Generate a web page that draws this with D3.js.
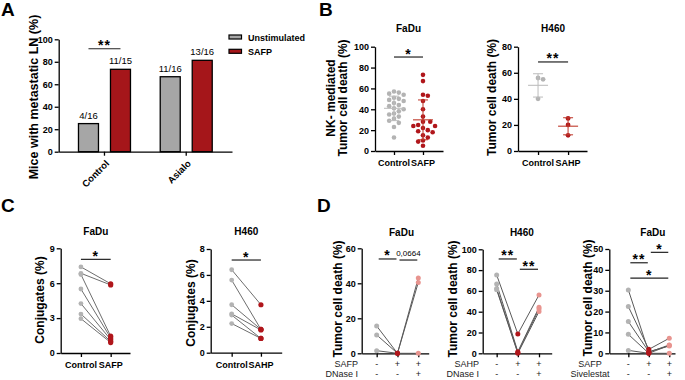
<!DOCTYPE html>
<html>
<head>
<meta charset="utf-8">
<script src="https://cdn.jsdelivr.net/npm/d3@7"></script>
<style>
  body { margin: 0; background: #fff; }
  svg { font-family: "Liberation Sans", Arial, sans-serif; }
  .axis path, .axis line { stroke: #000; stroke-width: 1.3px; }
  .axis text { font-weight: bold; font-size: 9px; fill: #000; }
  .ttl { font-weight: bold; font-size: 10px; }
  .ylab { font-weight: bold; font-size: 12px; }
  .plabel { font-weight: bold; font-size: 19px; }
</style>
</head>
<body>
<svg id="chart" width="685" height="380"></svg>
<script>
// ---- data ----
// A: metastatic LN
const aGroups = ["Control", "Asialo"];
const aSeries = ["Unstimulated", "SAFP"];
const aPercent = [[25.0, 73.3], [66.7, 81.3]];
const aCounts = [["4/16", "11/15"], ["11/16", "13/16"]];
const aTicks = [0, 20, 40, 60, 80, 100];

// B: NK-mediated killing
const bFaduControl = [57, 56, 55, 54, 51, 50, 49, 48, 46, 44, 43, 41, 40, 38, 36, 35, 33, 31, 29, 27, 23, 13];
const bFaduSafp = [73, 67, 54, 53, 48, 40, 33, 28, 28, 25, 24, 24, 22, 20, 19, 18, 15, 13, 10, 9, 5];
const bH460Control = [56, 55, 40];
const bH460Sahp = [25, 20, 12];

// C: conjugates, paired
const cFaduControl = [7.4, 6.85, 6.75, 5.5, 4.25, 3.35, 2.95];
const cFaduSafp = [5.95, 5.85, 1.45, 1.3, 1.15, 1.0, 0.9];
const cH460Control = [6.4, 5.6, 3.7, 3.0, 2.9, 2.25];
const cH460Sahp = [3.7, 1.8, 1.8, 1.75, 1.1, 1.1];

// D: tumor cell death, three conditions per line
const dFaduDnase = [[15.6, 0, 43.0], [10.5, 0, 40.5], [1.5, 0, 0]];
const dH460Dnase = [[75.3, 18.6, 56.1], [66.7, 1.6, 44.2], [62.2, 0.5, 42.6], [61.0, 0, 40.1]];
const dFaduSiv = [[30.4, 0.5, 4.0], [22.4, 1.9, 7.2], [15.2, 0.8, 3.5], [9.1, 0, 3.8], [1.4, 0, 0]];
const dRowsDnaseFadu = ["SAFP", "DNase I"];
const dRowsDnaseH460 = ["SAHP", "DNase I"];
const dRowsSiv = ["SAFP", "Sivelestat"];
const dSigns = [["-", "+", "+"], ["-", "-", "+"]];

const grey = "#b3b3b3", red = "#b0161b", pink = "#e8948f";

const svg = d3.select("#chart");

// ---- helpers ----
function frame(x, y, yTicks, xTicks) {
  const g = svg.append("g");
  g.append("g").attr("class", "axis")
    .attr("transform", `translate(${x.range()[0]},0)`)
    .call(d3.axisLeft(y).tickValues(yTicks).tickSize(4).tickSizeOuter(0).tickPadding(2));
  g.append("g").attr("class", "axis")
    .attr("transform", `translate(0,${y.range()[0]})`)
    .call(d3.axisBottom(x).tickValues(xTicks).tickSize(4).tickSizeOuter(0).tickFormat(""));
  return g;
}

function sig(g, x1, x2, y, label, small) {
  g.append("line").attr("x1", x1).attr("x2", x2).attr("y1", y).attr("y2", y)
    .attr("stroke", "#222").attr("stroke-width", 1.2);
  g.append("text").attr("x", (x1 + x2) / 2).attr("y", small ? y - 4 : y + 1.5)
    .attr("text-anchor", "middle")
    .style("font-size", small ? "8px" : "14px")
    .style("font-weight", small ? "normal" : "bold")
    .style("letter-spacing", small ? "0px" : "1px")
    .text(label);
}

function yLabel(x, y, lines) {
  const t = svg.append("text").attr("class", "ylab").attr("text-anchor", "middle")
    .attr("transform", `translate(${x},${y}) rotate(-90)`);
  lines.forEach((l, i) => {
    t.append("tspan").attr("x", 0).attr("dy", i === 0 ? -(lines.length - 1) * 12 : 12).text(l);
  });
}

function title(x, y, s) {
  svg.append("text").attr("class", "ttl").attr("x", x).attr("y", y).attr("text-anchor", "middle").text(s);
}

function swarm(values, y, cx, r) {
  const placed = [];
  values.map(v => ({ v, py: y(v) })).sort((a, b) => a.py - b.py).forEach(p => {
    const offs = [0];
    for (let k = 1; k < 12; k++) { offs.push(k * r * 1.05, -k * r * 1.05); }
    for (const o of offs) {
      const px = cx + o;
      if (placed.every(q => Math.hypot(q.px - px, q.py - p.py) >= 2 * r + 0.3)) { p.px = px; break; }
    }
    placed.push(p);
  });
  return placed;
}

// ---- panel A ----
(function () {
  const y = d3.scaleLinear().domain([0, 100]).range([151.7, 39.3]);
  const x = d3.scaleBand().domain(aGroups).range([58.7, 232]).paddingInner(0).paddingOuter(0.06);
  const sub = d3.scaleBand().domain(aSeries).range([-42, 42]).paddingInner(0.375).paddingOuter(0.5);
  const col = d3.scaleOrdinal().domain(aSeries).range(["#a6a6a6", "#a5161a"]);
  const g = svg.append("g");

  aGroups.forEach((grp, gi) => {
    aSeries.forEach((s, si) => {
      const bx = x(grp) + x.bandwidth() / 2 + sub(s);
      g.append("rect").attr("x", bx).attr("y", y(aPercent[gi][si]))
        .attr("width", sub.bandwidth()).attr("height", y(0) - y(aPercent[gi][si]))
        .attr("fill", col(s)).attr("stroke", "#000").attr("stroke-width", 1.3);
      g.append("text").attr("x", bx + sub.bandwidth() / 2).attr("y", y(aPercent[gi][si]) - 5)
        .attr("text-anchor", "middle").style("font-size", "9.5px").text(aCounts[gi][si]);
    });
  });

  g.append("g").attr("class", "axis")
    .attr("transform", `translate(${x.range()[0]},0)`)
    .call(d3.axisLeft(y).tickValues(aTicks).tickSize(4).tickSizeOuter(0).tickPadding(2));
  const xa = g.append("g").attr("class", "axis")
    .attr("transform", `translate(0,${y(0)})`)
    .call(d3.axisBottom(x).tickSize(4).tickSizeOuter(0));
  xa.selectAll("text").attr("y", 0).attr("dy", "0.35em")
    .attr("text-anchor", "end").attr("transform", "translate(3,10) rotate(-45)")
    .style("font-size", "9.5px");

  const c0 = x("Control") + x.bandwidth() / 2;
  sig(g, c0 + sub("Unstimulated") + sub.bandwidth() / 2, c0 + sub("SAFP") + sub.bandwidth() / 2, y(91.6), "**");

  // legend
  aSeries.forEach((s, i) => {
    const ly = 35 + i * 14.3;
    svg.append("rect").attr("x", 229).attr("y", ly).attr("width", 12.5).attr("height", 4)
      .attr("fill", col(s)).attr("stroke", "#000").attr("stroke-width", 1.2);
    svg.append("text").attr("x", 248).attr("y", ly + 5.5).style("font-weight", "bold")
      .style("font-size", "9px").text(s);
  });

  svg.append("text").attr("class", "ylab").attr("text-anchor", "middle")
    .attr("transform", "translate(38,97) rotate(-90)").style("font-size", "12.5px")
    .text("Mice with metastatic LN (%)");
  svg.append("text").attr("class", "plabel").attr("x", 1).attr("y", 16).text("A");
})();

// ---- panel B ----
function scatterPanel(cfg) {
  const x = d3.scaleLinear().domain(cfg.xDom).range(cfg.xRange);
  const y = d3.scaleLinear().domain([0, cfg.yMax]).range(cfg.yRange);
  const g = frame(x, y, cfg.yTicks, [0, 1]);
  [cfg.a, cfg.b].forEach((vals, i) => {
    const cx = x(i);
    const m = d3.mean(vals), sd = d3.deviation(vals);
    const ec = i === 0 ? "#bdbdbd" : "#c0392b";
    const pts = swarm(vals, y, cx, cfg.r);
    g.selectAll(null).data(pts).join("circle")
      .attr("cx", d => d.px).attr("cy", d => d.py).attr("r", cfg.r)
      .attr("fill", i === 0 ? grey : red);
    g.append("line").attr("x1", cx).attr("x2", cx).attr("y1", y(m - sd)).attr("y2", y(m + sd))
      .attr("stroke", ec).attr("stroke-width", 1.2).attr("stroke-opacity", 0.85);
    g.append("line").attr("x1", cx - cfg.mw).attr("x2", cx + cfg.mw).attr("y1", y(m)).attr("y2", y(m))
      .attr("stroke", ec).attr("stroke-width", 1.3).attr("stroke-opacity", 0.85);
    [m - sd, m + sd].forEach(v => {
      g.append("line").attr("x1", cx - 5).attr("x2", cx + 5).attr("y1", y(v)).attr("y2", y(v))
        .attr("stroke", ec).attr("stroke-width", 1.2).attr("stroke-opacity", 0.85);
    });
    g.append("text").attr("x", cx).attr("y", cfg.labY).attr("text-anchor", "middle")
      .style("font-weight", "bold").style("font-size", "9px").text(cfg.cats[i]);
  });
  sig(g, x(0), x(1), y(cfg.sigY), cfg.sig);
  title((x(0) + x(1)) / 2, cfg.titleY, cfg.title);
  return { x, y };
}

scatterPanel({
  xDom: [-0.655, 1.69], xRange: [375, 443], yMax: 100, yRange: [151, 46.7],
  yTicks: [0, 20, 40, 60, 80, 100], a: bFaduControl, b: bFaduSafp, r: 2.3, mw: 10,
  cats: ["Control", "SAFP"], labY: 165.5, sig: "*", sigY: 90.1, title: "FaDu", titleY: 31.5
});
scatterPanel({
  xDom: [-0.667, 1.63], xRange: [518, 587], yMax: 80, yRange: [151, 46.7],
  yTicks: [0, 20, 40, 60, 80], a: bH460Control, b: bH460Sahp, r: 2.4, mw: 10,
  cats: ["Control", "SAHP"], labY: 165.5, sig: "**", sigY: 68.3, title: "H460", titleY: 31.5
});
yLabel(347, 98, ["NK- mediated", "Tumor cell death (%)"]);
yLabel(496, 97.5, ["Tumor cell death (%)"]);
svg.append("text").attr("class", "plabel").attr("x", 319).attr("y", 15.5).text("B");

// ---- panel C ----
function pairedPanel(cfg) {
  const x = d3.scaleLinear().domain(cfg.xDom).range(cfg.xRange);
  const y = d3.scaleLinear().domain([0, cfg.yMax]).range(cfg.yRange);
  const g = frame(x, y, cfg.yTicks, [0, 1]);
  const pairs = cfg.a.map((v, i) => [v, cfg.b[i]]);
  g.selectAll(null).data(pairs).join("line")
    .attr("x1", x(0)).attr("x2", x(1)).attr("y1", d => y(d[0])).attr("y2", d => y(d[1]))
    .attr("stroke", "#6e6e6e").attr("stroke-width", 1);
  g.selectAll(null).data(cfg.a).join("circle").attr("cx", x(0)).attr("cy", d => y(d)).attr("r", 2.4).attr("fill", grey);
  g.selectAll(null).data(cfg.b).join("circle").attr("cx", x(1)).attr("cy", d => y(d)).attr("r", 2.6).attr("fill", red);
  cfg.cats.forEach((c, i) => {
    g.append("text").attr("x", x(i)).attr("y", cfg.labY).attr("text-anchor", "middle")
      .style("font-weight", "bold").style("font-size", "9px").text(c);
  });
  sig(g, x(0), x(1), y(cfg.sigY), cfg.sig);
  title((x(0) + x(1)) / 2, cfg.titleY, cfg.title);
}

pairedPanel({
  xDom: [-0.68, 1.65], xRange: [60.7, 130], yMax: 9, yRange: [353, 248.3], yTicks: [0, 3, 6, 9],
  a: cFaduControl, b: cFaduSafp, cats: ["Control", "SAFP"], labY: 367.5,
  sig: "*", sigY: 8.05, title: "FaDu", titleY: 235
});
pairedPanel({
  xDom: [-0.717, 1.71], xRange: [210.7, 281.7], yMax: 8, yRange: [352.7, 249], yTicks: [0, 2, 4, 6, 8],
  a: cH460Control, b: cH460Sahp, cats: ["Control", "SAHP"], labY: 367.5,
  sig: "*", sigY: 7.15, title: "H460", titleY: 235
});
yLabel(44, 300, ["Conjugates (%)"]);
yLabel(195, 303, ["Conjugates (%)"]);
svg.append("text").attr("class", "plabel").attr("x", 1).attr("y", 212).text("C");

// ---- panel D ----
function tripletPanel(cfg) {
  const x = d3.scaleLinear().domain(cfg.xDom).range(cfg.xRange);
  const y = d3.scaleLinear().domain([0, cfg.yMax]).range(cfg.yRange);
  const g = frame(x, y, cfg.yTicks, [0, 1, 2]);
  const line = d3.line().x((d, i) => x(i)).y(d => y(d));
  g.selectAll(null).data(cfg.data).join("path").attr("d", line)
    .attr("fill", "none").attr("stroke", "#5a5a5a").attr("stroke-width", 1);
  const cols = [grey, red, pink];
  [0, 1, 2].forEach(i => {
    g.selectAll(null).data(cfg.data).join("circle")
      .attr("cx", x(i)).attr("cy", d => y(d[i])).attr("r", 2.5).attr("fill", cols[i]);
  });
  cfg.rows.forEach((r, ri) => {
    const ry = 367 + ri * 10;
    g.append("text").attr("x", cfg.rowX).attr("y", ry).attr("text-anchor", cfg.rowAnchor)
      .style("font-size", "9px").attr("fill", "#222").text(r);
    dSigns[ri].forEach((s, si) => {
      g.append("text").attr("x", x(si)).attr("y", ry).attr("text-anchor", "middle")
        .style("font-size", "9px").attr("fill", "#222").text(s);
    });
  });
  cfg.sigs.forEach(s => {
    sig(g, x(s[0]) + 2, x(s[1]) - 1, y(s[3]), s[2], s[2].indexOf("*") < 0);
  });
  title((x(0) + x(2)) / 2 + 4, 236, cfg.title);
}

tripletPanel({
  xDom: [-0.72, 2.5], xRange: [361.7, 428.7], yMax: 60, yRange: [353.3, 248.3], yTicks: [0, 20, 40, 60],
  data: dFaduDnase, rows: dRowsDnaseFadu, rowX: 358, rowAnchor: "end", title: "FaDu",
  sigs: [[0, 1, "*", 53.9], [1, 2, "0,0664", 53.3]]
});
tripletPanel({
  xDom: [-0.66, 2.6], xRange: [482.7, 551.7], yMax: 100, yRange: [353.3, 249.3], yTicks: [0, 20, 40, 60, 80, 100],
  data: dH460Dnase, rows: dRowsDnaseH460, rowX: 479, rowAnchor: "end", title: "H460",
  sigs: [[0, 1, "**", 90.7], [1, 2, "**", 80.8]]
});
tripletPanel({
  xDom: [-0.93, 2.28], xRange: [609.3, 675], yMax: 50, yRange: [353.3, 249], yTicks: [0, 10, 20, 30, 40, 50],
  data: dFaduSiv, rows: dRowsSiv, rowX: 590, rowAnchor: "middle", title: "FaDu",
  sigs: [[0, 1, "**", 43.4], [1, 2, "*", 48.4], [0, 2, "*", 36]]
});
yLabel(342, 299, ["Tumor cell death (%)"]);
yLabel(457, 299, ["Tumor cell death (%)"]);
yLabel(592, 298, ["Tumor cell death (%)"]);
svg.append("text").attr("class", "plabel").attr("x", 317).attr("y", 212).text("D");
</script>
</body>
</html>
